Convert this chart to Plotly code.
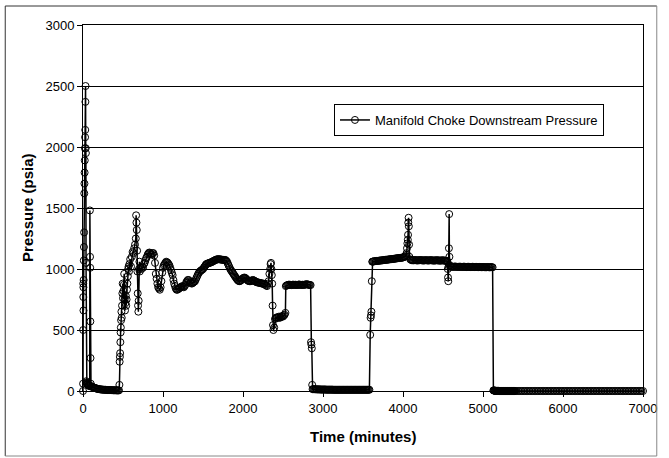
import plotly.graph_objects as go

# ---------------- data ----------------
# start-up spikes
A_t = [0, 1, 2, 3, 4, 5, 6, 8, 10, 12, 14, 16, 18, 20, 22, 24, 26, 28, 30, 32, 34, 36, 38, 40,
       44, 48, 52, 56, 60, 64, 68, 72, 76, 80, 84, 86, 88, 90, 92, 94, 97]
A_p = [0, 60, 500, 880, 770, 850, 660, 910, 1070, 1180, 1300, 1620, 1700, 1790, 1890, 1990, 2080,
       2140, 2370, 2500, 1990, 1950, 1050, 80,
       70, 65, 60, 55, 60, 50, 45, 50, 45, 40, 45, 1480, 1100, 1010, 570, 270, 60]
# shut-in near zero
B_t = list(range(100, 451, 10))
B_p = [40, 36, 32, 30, 28, 25, 22, 20, 18, 16, 15, 14, 13, 12, 12, 11, 10, 10, 10, 9,
       9, 8, 8, 8, 8, 7, 7, 7, 6, 6, 6, 6, 5, 5, 5, 5]
# ramp-up
C1_t = [455, 458, 461, 464, 467, 470, 473, 476, 480, 484, 488, 492, 496, 500,
        505, 510, 515, 520, 525, 530, 535, 540, 545, 550, 555, 560, 565, 570, 575, 580,
        590, 600, 610, 620, 630, 640, 650, 660,
        664, 668, 672, 676, 680, 684, 688, 692, 696, 700, 705, 710,
        720, 730, 740, 750, 760]
C1_p = [50, 240, 280, 310, 400, 480, 520, 580, 650, 600, 700, 800, 880, 760,
        820, 870, 960, 750, 660, 720, 780, 700, 750, 830, 880, 940, 1000, 1020, 980, 1040,
        1080, 1020, 1100, 1140, 1130, 1170, 1200, 1250,
        1440, 1380, 1320, 1150, 980, 800, 700, 650, 740, 1000, 1060, 980,
        1010, 1000, 1020, 1010, 1040]
C2_t = list(range(770, 1551, 10))
C2_p = [1050, 1070, 1090, 1100, 1120, 1130, 1135, 1130, 1125, 1120,
        1130, 1130, 1110, 1050, 960, 920, 880, 850, 840, 830,
        850, 900, 970, 1010, 1030, 1040, 1050, 1060, 1055, 1050,
        1040, 1030, 1010, 990, 970, 950, 910, 880, 860, 840,
        830, 830, 835, 840, 845, 850, 855, 860, 855, 850,
        860, 870, 890, 900, 910, 910, 900, 890, 885, 880,
        885, 890, 895, 900, 915, 930, 945, 960, 970, 980,
        985, 990, 995, 1000, 1010, 1020, 1030, 1040, 1042]
D1_t = list(range(1560, 2301, 10))
D1_p = [1045, 1048, 1050, 1052, 1055, 1058, 1060, 1065, 1070, 1072,
        1075, 1078, 1080, 1080, 1080, 1079, 1078, 1077, 1076, 1075,
        1075, 1074, 1074, 1068, 1060, 1045, 1030, 1015, 1000, 990,
        980, 970, 960, 950, 940, 930, 920, 912, 905, 900,
        900, 905, 910, 918, 925, 928, 930, 925, 920, 912,
        905, 902, 900, 900, 900, 905, 910, 908, 905, 900,
        895, 892, 890, 889, 888, 886, 885, 882, 880, 880,
        880, 875, 870, 865, 860]
D2_t = [2310, 2320, 2330, 2340, 2345, 2350, 2355, 2360, 2365, 2370, 2375, 2380]
D2_p = [880, 900, 960, 1000, 1040, 1050, 1000, 950, 880, 700, 540, 500]
E1_t = list(range(2390, 2531, 10))
E1_p = [520, 590, 600, 600, 605, 600, 610, 600, 605, 610, 615, 610, 620, 625, 640]
E2_t = list(range(2535, 2846, 10))
E2_p = [860, 865, 868, 870, 872, 870, 870, 868, 870, 872,
        870, 870, 871, 870, 869, 870, 872, 873, 870, 870,
        870, 871, 870, 870, 872, 874, 875, 874, 872, 870,
        870, 868]
E3_t = [2850, 2855, 2860, 2865, 2870]
E3_p = [400, 380, 350, 50, 15]
# second shut-in
F_t = list(range(2880, 3581, 10))
F_p = [15, 15, 14, 14, 14, 13, 13, 13, 13, 12,
       12, 12, 12, 12, 12, 12, 11, 11, 11, 11,
       11, 11, 11, 11, 11, 10, 10, 10, 10, 10,
       10, 10, 10, 10, 10, 10, 10, 10, 10, 10,
       10, 10, 10, 10, 10, 10, 10, 10, 10, 10,
       10, 10, 10, 10, 10, 10, 10, 10, 10, 10,
       10, 10, 10, 10, 10, 10, 10, 10, 10, 10, 10]
G_t = [3590, 3595, 3600, 3605, 3610, 3616]
G_p = [460, 600, 620, 650, 900, 1060]
H1_t = list(range(3620, 4041, 10))
H1_p = [1060, 1062, 1063, 1064, 1065, 1066, 1066, 1067, 1068, 1069,
        1070, 1070, 1071, 1072, 1073, 1074, 1075, 1076, 1076, 1077,
        1078, 1079, 1080, 1080, 1081, 1082, 1083, 1084, 1085, 1086,
        1087, 1088, 1089, 1090, 1090, 1091, 1092, 1093, 1095, 1097,
        1100, 1105, 1115]
H2_t = [4045, 4050, 4055, 4060, 4063, 4066, 4070, 4073, 4076, 4080, 4090, 4100]
H2_p = [1130, 1170, 1210, 1240, 1280, 1380, 1420, 1350, 1200, 1100, 1080, 1075]
I_t = list(range(4110, 4551, 10))
I_p = [1072, 1072, 1071, 1072, 1073, 1072, 1071, 1070, 1071, 1072,
       1072, 1073, 1072, 1071, 1070, 1070, 1071, 1072, 1072, 1071,
       1070, 1070, 1071, 1072, 1072, 1071, 1070, 1070, 1069, 1070,
       1071, 1072, 1071, 1070, 1070, 1069, 1069, 1070, 1071, 1070,
       1070, 1069, 1068, 1068, 1066]
J_t = [4555, 4560, 4563, 4566, 4570, 4574, 4577, 4580, 4585, 4590]
J_p = [1060, 1000, 930, 900, 1020, 1170, 1450, 1100, 1030, 1020]
K_t = list(range(4600, 5121, 10))
K_p = [1020, 1019, 1018, 1018, 1019, 1020, 1019, 1018, 1017, 1018,
       1018, 1019, 1018, 1017, 1017, 1018, 1019, 1018, 1017, 1016,
       1017, 1018, 1018, 1017, 1016, 1016, 1017, 1018, 1017, 1016,
       1016, 1017, 1017, 1016, 1015, 1016, 1017, 1016, 1015, 1015,
       1016, 1016, 1015, 1015, 1014, 1015, 1016, 1015, 1014, 1014,
       1015, 1015, 1014]
# final shut-in
L1_t = list(range(5130, 5401, 5))
L1_p = [5, 4, 3, 3, 2, 2, 2, 1, 1, 1,
        1, 1, 1, 1, 1, 0, 0, 0, 0, 0,
        0, 0, 0, 0, 0, 0, 0, 0, 0, 0,
        0, 0, 0, 0, 0, 0, 0, 0, 0, 0,
        0, 0, 0, 0, 0, 0, 0, 0, 0, 0,
        0, 0, 0, 0, 0]
L2_t = list(range(5420, 7001, 20))
L2_p = [0, 0, 0, 0, 0, 0, 0, 0, 0, 0,
        0, 0, 0, 0, 0, 0, 0, 0, 0, 0,
        0, 0, 0, 0, 0, 0, 0, 0, 0, 0,
        0, 0, 0, 0, 0, 0, 0, 0, 0, 0,
        0, 0, 0, 0, 0, 0, 0, 0, 0, 0,
        0, 0, 0, 0, 0, 0, 0, 0, 0, 0,
        0, 0, 0, 0, 0, 0, 0, 0, 0, 0,
        0, 0, 0, 0, 0, 0, 0, 0, 0, 0]

x_ticks = [0, 1000, 2000, 3000, 4000, 5000, 6000, 7000]
y_ticks = [0, 500, 1000, 1500, 2000, 2500, 3000]
series_name = "Manifold Choke Downstream Pressure"
x_title = "Time (minutes)"
y_title = "Pressure (psia)"

segments = [(A_t, A_p), (B_t, B_p), (C1_t, C1_p), (C2_t, C2_p), (D1_t, D1_p), (D2_t, D2_p),
            (E1_t, E1_p), (E2_t, E2_p), (E3_t, E3_p), (F_t, F_p), (G_t, G_p), (H1_t, H1_p),
            (H2_t, H2_p), (I_t, I_p), (J_t, J_p), (K_t, K_p), (L1_t, L1_p), (L2_t, L2_p)]
time_min, pressure = [], []
for ts, ps in segments:
    assert len(ts) == len(ps), (ts[0], len(ts), len(ps))
    time_min += list(ts)
    pressure += list(ps)

# ---------------- figure ----------------
W, H = 669, 458
L, R, T, B = 83, 17, 25, 67
pw, ph = W - L - R, H - T - B
def px(x): return (x - L) / pw
def py(y): return (H - B - y) / ph

FONT = "Liberation Sans, Arial, sans-serif"

fig = go.Figure()
fig.add_trace(go.Scatter(
    x=time_min, y=pressure, mode="lines+markers", name=series_name,
    line=dict(color="black", width=1.5),
    marker=dict(symbol="circle-open", size=7, color="black", line=dict(width=1, color="black")),
    cliponaxis=False, showlegend=True,
))

axis_common = dict(showline=True, linecolor="black", linewidth=1, mirror=True,
                   ticks="outside", ticklen=5, tickcolor="black", tickwidth=1,
                   zeroline=False, tickfont=dict(family=FONT, size=13, color="black"))
fig.update_layout(
    width=W, height=H, autosize=False,
    margin=dict(l=L, r=R, t=T, b=B, pad=0),
    paper_bgcolor="white", plot_bgcolor="white",
    font=dict(family=FONT, size=13, color="black"),
    xaxis=dict(range=[0, 7000], tickvals=x_ticks, ticktext=[str(v) for v in x_ticks],
               showgrid=False, **axis_common),
    yaxis=dict(range=[0, 3000], tickvals=y_ticks, ticktext=[str(v) for v in y_ticks],
               showgrid=True, gridcolor="black", gridwidth=1, **axis_common),
    legend=dict(x=px(338), y=py(136), xanchor="left", yanchor="bottom",
                bgcolor="white", bordercolor="black", borderwidth=1,
                font=dict(family=FONT, size=13, color="black")),
    showlegend=True,
    annotations=[
        dict(text="<b>%s</b>" % x_title, xref="paper", yref="paper", x=px(367), y=py(437),
             xanchor="center", yanchor="middle", showarrow=False,
             font=dict(family=FONT, size=15, color="black")),
        dict(text="<b>%s</b>" % y_title, xref="paper", yref="paper", x=px(26), y=py(208),
             xanchor="center", yanchor="middle", textangle=-90, showarrow=False,
             font=dict(family=FONT, size=15, color="black")),
    ],
    shapes=[
        dict(type="line", xref="paper", yref="paper", x0=px(4), x1=px(4), y0=py(6), y1=py(456),
             line=dict(color="#333333", width=1)),
        dict(type="line", xref="paper", yref="paper", x0=px(4), x1=px(666), y0=py(6), y1=py(6),
             line=dict(color="#333333", width=1)),
        dict(type="line", xref="paper", yref="paper", x0=px(666), x1=px(666), y0=py(6), y1=py(456),
             line=dict(color="#888888", width=1)),
        dict(type="line", xref="paper", yref="paper", x0=px(4), x1=px(666), y0=py(456), y1=py(456),
             line=dict(color="#888888", width=1)),
    ],
)

fig.write_html("out.html")
